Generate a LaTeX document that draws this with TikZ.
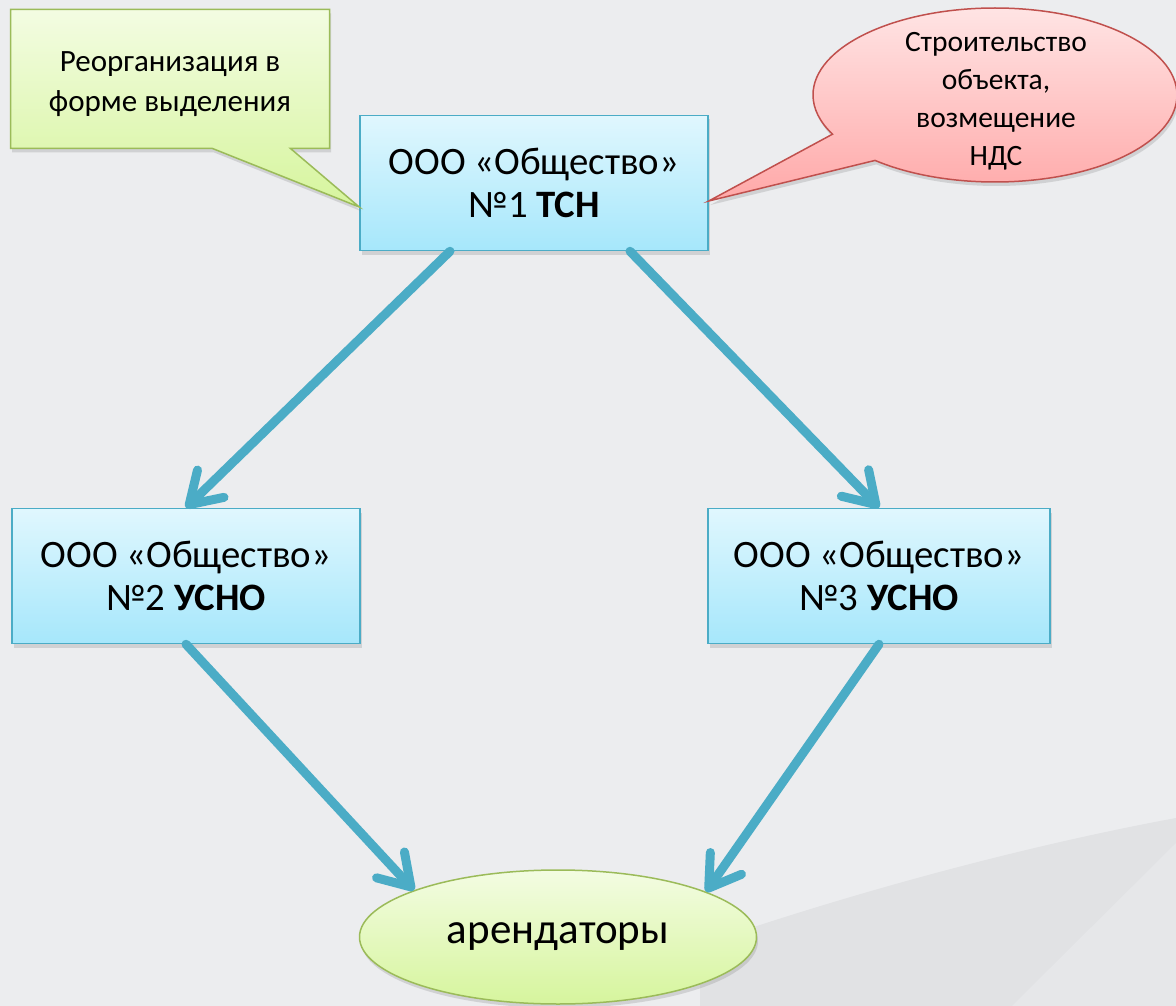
\documentclass[tikz,border=0pt]{standalone}
\usepackage{fontspec}
\setmainfont{Carlito}
\usetikzlibrary{arrows.meta,shapes.callouts,shapes.geometric,shadows,calc}
\definecolor{bg}{HTML}{ECEDEF}
\definecolor{wedge}{HTML}{E1E2E4}
\definecolor{wedgelt}{HTML}{E6E7E9}
\definecolor{boxtop}{HTML}{E0F7FE}
\definecolor{boxbot}{HTML}{A6E7FB}
\definecolor{boxline}{HTML}{4BACC6}
\definecolor{grtop}{HTML}{F3FCE2}
\definecolor{grbot}{HTML}{D6F59D}
\definecolor{grline}{HTML}{9BBB59}
\definecolor{rdtop}{HTML}{FFE4E4}
\definecolor{rdbot}{HTML}{FFA8A8}
\definecolor{rdline}{HTML}{C0504D}
\definecolor{arr}{HTML}{4BACC6}
\begin{document}
\begin{tikzpicture}[x=1pt,y=-1pt,
  shad/.style={drop shadow={opacity=0.25,shadow xshift=1.5pt,shadow yshift=-4pt}},
  firm/.style={shad,draw=boxline,line width=1.5pt,top color=boxtop,bottom color=boxbot,
    minimum width=348pt,minimum height=135pt,inner sep=0pt,align=center,
    font=\fontsize{38.8}{43}\selectfont},
  greencall/.style={shad,rectangle callout,draw=grline,line width=1.5pt,top color=grtop,bottom color=grbot,
    minimum width=319pt,minimum height=139pt,inner sep=0pt,align=center,
    font=\fontsize{31}{40}\selectfont},
  redcall/.style={shad,ellipse callout,draw=rdline,line width=1.5pt,top color=rdtop,bottom color=rdbot,
    minimum width=364pt,minimum height=174pt,inner sep=0pt},
  calltext/.style={align=center,inner sep=0pt,font=\fontsize{29.5}{38}\selectfont},
  tenant/.style={shad,ellipse,draw=grline,line width=1.5pt,top color=grtop,bottom color=grbot,
    minimum width=397pt,minimum height=134pt,inner sep=0pt,font=\fontsize{43}{48}\selectfont},
  conn/.style={draw=arr,line width=9pt,line cap=round,
    -{Straight Barb[length=30pt,width=38pt,round]}}
]
\useasboundingbox (0,0) rectangle (1176,1006);
\fill[bg] (0,0) rectangle (1176,1006);
\fill[wedge] (700,945) .. controls (860,890) and (1030,845) .. (1176,818) -- (1176,1006) -- (700,1006) -- cycle;
\fill[wedgelt] (1012,1006) -- (1176,843) -- (1176,1006) -- cycle;

\node[firm] (b1) at (534,183) {ООО «Общество»\\№1 \textbf{ТСН}};
\node[firm] (b2) at (186,576) {ООО «Общество»\\№2 \textbf{УСНО}};
\node[firm,minimum width=342pt] (b3) at (879,576) {ООО «Общество»\\№3 \textbf{УСНО}};

\node[greencall,callout absolute pointer={([yshift=-24pt]b1.west)},callout pointer width=78pt,
  callout pointer shorten=0pt]
  (reorg) at (170,79) {\raisebox{-5pt}[\height][\depth]{\begin{tabular}{@{}c@{}}Реорганизация в\\форме выделения\end{tabular}}};

\node[redcall,callout absolute pointer={([yshift=-18pt]b1.east)},callout pointer arc=22]
  (build) at (995,95) {};
\node[calltext] (buildtext) at (996,101) {Строительство\\объекта,\\возмещение\\НДС};

\node[tenant] (ten) at (558,937) {арендаторы};

\draw[conn] ([xshift=-84pt]b1.south) -- (b2.north);
\draw[conn] ([xshift=96pt]b1.south) -- (b3.north);
\draw[conn] (b2.south) -- (ten.162);
\draw[conn] (b3.south) -- (ten.17);
\end{tikzpicture}
\end{document}
